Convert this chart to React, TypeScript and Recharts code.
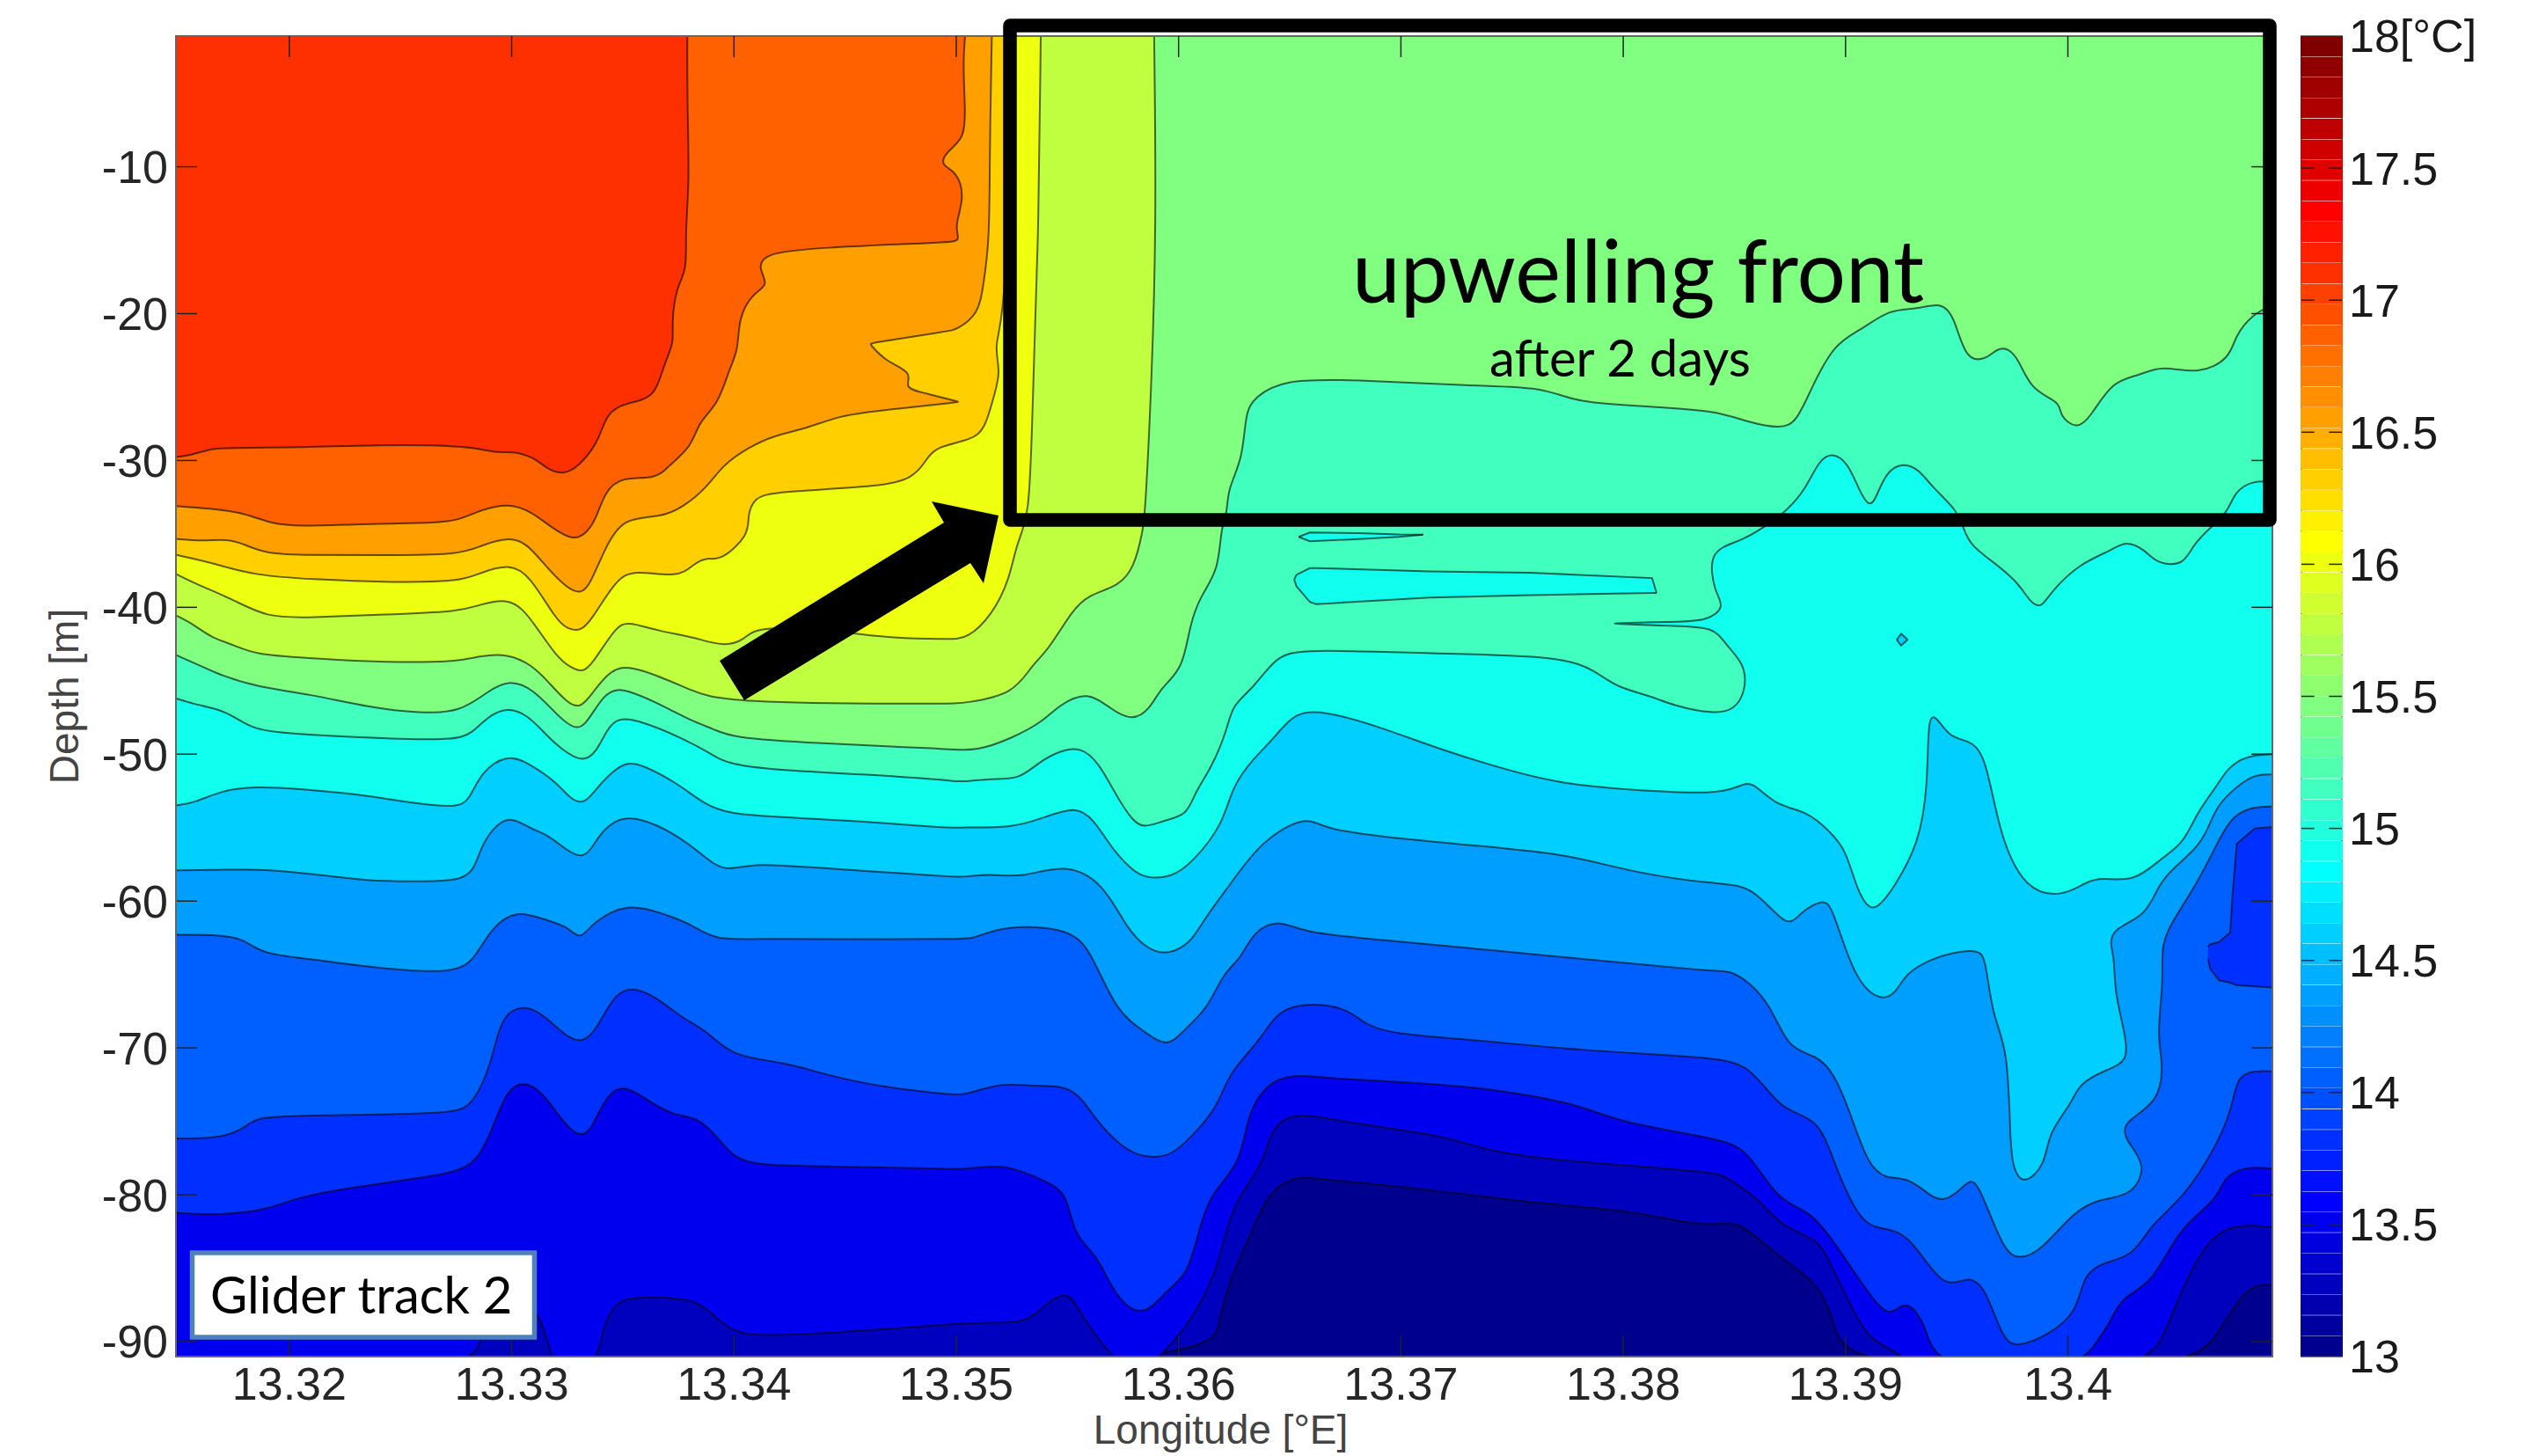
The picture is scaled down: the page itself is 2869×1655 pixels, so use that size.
import {
  Area,
  Bar,
  BarChart,
  Cell,
  ComposedChart,
  ReferenceArea,
  ReferenceLine,
  XAxis,
  YAxis,
} from 'recharts';

type Pt = [number, number];

const lonTicks = [13.32, 13.33, 13.34, 13.35, 13.36, 13.37, 13.38, 13.39, 13.4];
const depthTicks = [-90, -80, -70, -60, -50, -40, -30, -20, -10];
const tempTicks = [13, 13.5, 14, 14.5, 15, 15.5, 16, 16.5, 17, 17.5, 18];
const LON_DOMAIN: [number, number] = [13.3149, 13.4092];
const DEPTH_DOMAIN: [number, number] = [-91.02, -1.1];

// colorbar steps, jet(64)
const colorbarTemps = [
  13.039, 13.117, 13.195, 13.273, 13.352, 13.43, 13.508, 13.586, 13.664, 13.742, 13.82, 13.898, 13.977, 14.055, 14.133, 14.211,
  14.289, 14.367, 14.445, 14.523, 14.602, 14.68, 14.758, 14.836, 14.914, 14.992, 15.07, 15.148, 15.227, 15.305, 15.383, 15.461,
  15.539, 15.617, 15.695, 15.773, 15.852, 15.93, 16.008, 16.086, 16.164, 16.242, 16.32, 16.398, 16.477, 16.555, 16.633, 16.711,
  16.789, 16.867, 16.945, 17.023, 17.102, 17.18, 17.258, 17.336, 17.414, 17.492, 17.57, 17.648, 17.727, 17.805, 17.883, 17.961,
];
const colorbarColours = [
  '#00008F', '#00009F', '#0000AF', '#0000BF', '#0000CF', '#0000DF', '#0000EF', '#0000FF',
  '#0010FF', '#0020FF', '#0030FF', '#0040FF', '#0050FF', '#0060FF', '#0070FF', '#0080FF',
  '#008FFF', '#009FFF', '#00AFFF', '#00BFFF', '#00CFFF', '#00DFFF', '#00EFFF', '#00FFFF',
  '#10FFEF', '#20FFDF', '#30FFCF', '#40FFBF', '#50FFAF', '#60FF9F', '#70FF8F', '#80FF80',
  '#8FFF70', '#9FFF60', '#AFFF50', '#BFFF40', '#CFFF30', '#DFFF20', '#EFFF10', '#FFFF00',
  '#FFEF00', '#FFDF00', '#FFCF00', '#FFBF00', '#FFAF00', '#FF9F00', '#FF8F00', '#FF8000',
  '#FF7000', '#FF6000', '#FF5000', '#FF4000', '#FF3000', '#FF2000', '#FF1000', '#FF0000',
  '#EF0000', '#DF0000', '#CF0000', '#BF0000', '#AF0000', '#9F0000', '#8F0000', '#800000',
];

// isotherms: [longitude, depth], the warmer water lies above each line
const seaFloor: Pt[] = [[13.3149, -92], [13.4092, -92]];
const iso132: Pt[] = [
  [13.3149, -92], [13.3614, -92], [13.3618, -88.73], [13.3622, -86.12], [13.3634, -82.2], [13.364, -79.92],
  [13.3652, -78.61], [13.3668, -79.04], [13.3702, -79.43], [13.3758, -80.57], [13.3804, -81.06], [13.3829, -81.97],
  [13.3842, -82.04], [13.3853, -81.81], [13.3866, -83.83], [13.3888, -85.95], [13.3895, -88.73], [13.39, -92],
  [13.4053, -92], [13.4067, -89.71], [13.408, -86.12], [13.4092, -86.12],
];
const iso135: Pt[] = [
  [13.3149, -92], [13.3283, -92], [13.3285, -89.87], [13.3291, -88.73], [13.3305, -87.59], [13.3311, -87.75],
  [13.3316, -89.71], [13.3319, -92], [13.3338, -92], [13.3341, -88.9], [13.3347, -87.28], [13.3355, -86.95],
  [13.338, -87.02], [13.3388, -87.77], [13.3398, -89.24], [13.3409, -89.63], [13.3436, -89.5], [13.3497, -88.82],
  [13.3509, -88.69], [13.3528, -88.75], [13.3535, -88.26], [13.3544, -86.93], [13.3551, -86.77], [13.3554, -87.59],
  [13.3563, -89.71], [13.3576, -92], [13.3586, -92], [13.36, -89.54], [13.3604, -88.89], [13.3617, -85.46],
  [13.3622, -81.88], [13.3628, -79.92], [13.3639, -77.63], [13.3641, -75.68], [13.3651, -74.27], [13.3672, -75.02],
  [13.3722, -76], [13.374, -77.14], [13.3781, -77.8], [13.3842, -78.45], [13.3846, -78.78], [13.3861, -80.25],
  [13.3871, -82.2], [13.3888, -83.02], [13.3893, -84.65], [13.3905, -88.4], [13.3912, -90.03], [13.3927, -90.95],
  [13.3929, -92], [13.4034, -92], [13.4043, -89.71], [13.4053, -85.79], [13.4064, -82.85], [13.4076, -81.97],
  [13.4092, -82.2],
];
const iso137: Pt[] = [
  [13.3149, -81.22], [13.317, -81.39], [13.3191, -81], [13.3205, -80.08], [13.3232, -79.43], [13.3255, -78.94],
  [13.3275, -78.45], [13.3284, -77.8], [13.3291, -75.68], [13.3298, -72.74], [13.3306, -72.25], [13.3314, -73.07],
  [13.332, -74.37], [13.3327, -75.68], [13.3332, -76], [13.3336, -75.51], [13.3343, -73.07], [13.3351, -72.51],
  [13.3361, -73.56], [13.3373, -74.63], [13.3384, -74.7], [13.3393, -76.17], [13.34, -77.47], [13.341, -77.96],
  [13.3436, -78.06], [13.3497, -78.22], [13.35, -78.29], [13.3516, -78.03], [13.3525, -78.12], [13.3541, -79.1],
  [13.355, -79.92], [13.3553, -82.85], [13.3563, -84], [13.357, -86.44], [13.3579, -88.01], [13.3587, -87.91],
  [13.3595, -86.44], [13.3604, -85.46], [13.3609, -82.53], [13.3614, -79.92], [13.3628, -77.96], [13.3631, -74.37],
  [13.364, -72.41], [13.3651, -71.76], [13.3668, -72.09], [13.3713, -72.41], [13.3747, -72.9], [13.3781, -73.88],
  [13.3797, -75.02], [13.3842, -76.17], [13.3856, -76.82], [13.3869, -80.41], [13.3884, -81.06], [13.3895, -83.18],
  [13.3916, -88.08], [13.3922, -88.01], [13.3928, -87.1], [13.3937, -89.05], [13.394, -92], [13.4005, -92],
  [13.4014, -89.71], [13.4019, -88.73], [13.4024, -86.93], [13.4038, -86.12], [13.405, -82.2], [13.4067, -80.41],
  [13.407, -78.78], [13.408, -78.06], [13.4092, -78.22],
];
const iso140: Pt[] = [
  [13.3149, -76.17], [13.317, -76.17], [13.3181, -75.35], [13.3185, -74.7], [13.3209, -74.6], [13.3273, -74.47],
  [13.3282, -74.05], [13.3291, -71.11], [13.3295, -67.85], [13.3305, -67.03], [13.3314, -67.68], [13.3325, -69.31],
  [13.3332, -69.64], [13.3338, -68.83], [13.3347, -66.05], [13.3357, -65.89], [13.3368, -66.87], [13.3377, -68.01],
  [13.3388, -68.83], [13.3399, -70.62], [13.3423, -70.95], [13.3443, -71.93], [13.347, -72.74], [13.3497, -73.16],
  [13.3504, -73.23], [13.352, -72.35], [13.3536, -72.64], [13.3553, -72.51], [13.3563, -75.02], [13.3575, -76.82],
  [13.3584, -77.47], [13.3595, -77.41], [13.3602, -76.66], [13.3618, -74.05], [13.3622, -71.76], [13.3638, -69.31],
  [13.3646, -66.93], [13.3674, -67.03], [13.3683, -68.34], [13.3695, -69.05], [13.3736, -69.48], [13.3781, -70.2],
  [13.3842, -70.62], [13.3858, -71.27], [13.3871, -74.37], [13.3888, -74.7], [13.3895, -77.96], [13.3906, -81.71],
  [13.3915, -82.36], [13.3928, -82.43], [13.3944, -86.61], [13.3955, -85.46], [13.3963, -86.28], [13.3971, -90.03],
  [13.3978, -90.36], [13.3991, -89.54], [13.4004, -88.08], [13.4007, -85.46], [13.4015, -84.64], [13.403, -84.16],
  [13.4037, -82.04], [13.4052, -80.25], [13.4067, -76.66], [13.4074, -74.05], [13.4076, -71.93], [13.4084, -71.53],
  [13.4092, -71.6],
];
const iso143: Pt[] = [
  [13.3149, -62.3], [13.317, -62.3], [13.318, -62.63], [13.3188, -63.61], [13.3209, -63.93], [13.3232, -64.42],
  [13.3275, -65.07], [13.3284, -63.77], [13.3291, -61.81], [13.3302, -60.57], [13.3316, -61.32], [13.3325, -61.71],
  [13.3331, -62.72], [13.3336, -61.48], [13.3352, -60.11], [13.3368, -60.83], [13.3382, -61.65], [13.3391, -62.69],
  [13.3414, -62.53], [13.3459, -62.63], [13.3497, -62.56], [13.3508, -62.63], [13.352, -61.65], [13.3552, -61.81],
  [13.3561, -63.61], [13.3572, -67.52], [13.3584, -68.83], [13.3595, -70.03], [13.3602, -68.83], [13.3613, -67.36],
  [13.362, -64.91], [13.3628, -63.93], [13.3634, -61.97], [13.3646, -61.26], [13.3655, -62.14], [13.369, -62.63],
  [13.3736, -63.28], [13.3781, -63.93], [13.3842, -64.81], [13.3846, -64.75], [13.3853, -65.07], [13.3866, -66.87],
  [13.3874, -70.13], [13.3887, -70.46], [13.3895, -71.76], [13.3902, -74.37], [13.391, -77.96], [13.3918, -78.94],
  [13.3928, -78.78], [13.3938, -80.08], [13.3944, -80.47], [13.3951, -79.76], [13.3956, -78.94], [13.396, -79.27],
  [13.3971, -83.83], [13.3978, -84.42], [13.3988, -83.83], [13.4003, -81.06], [13.4015, -80.25], [13.4029, -80.08],
  [13.4036, -77.96], [13.4025, -76.17], [13.4025, -75.02], [13.4041, -73.72], [13.4043, -71.11], [13.404, -69.15],
  [13.4043, -65.56], [13.4042, -63.28], [13.4045, -61.81], [13.4058, -58.87], [13.4067, -56.1], [13.4074, -54.14],
  [13.4084, -53.56], [13.4092, -53.56],
];
const iso145: Pt[] = [
  [13.3149, -57.9], [13.3164, -57.9], [13.3186, -57.8], [13.3209, -58.12], [13.3236, -58.65], [13.3255, -58.65],
  [13.3277, -58.65], [13.3283, -57.9], [13.3286, -56.43], [13.3291, -55.12], [13.3299, -54.14], [13.3308, -55.06],
  [13.3316, -55.45], [13.3325, -56.59], [13.3332, -57.08], [13.3336, -56.43], [13.3341, -55.12], [13.3351, -54.08],
  [13.3366, -54.8], [13.338, -56.1], [13.3391, -57.57], [13.3398, -57.9], [13.341, -57.41], [13.3436, -57.73],
  [13.3497, -58.32], [13.3502, -58.39], [13.3516, -58.12], [13.3529, -58.45], [13.3549, -57.41], [13.3566, -58.71],
  [13.3577, -61.97], [13.3586, -63.28], [13.3595, -63.7], [13.3606, -62.79], [13.3611, -61.32], [13.3624, -58.71],
  [13.3637, -55.94], [13.3657, -54.14], [13.3665, -55.06], [13.369, -55.61], [13.3736, -56.26], [13.3776, -56.82],
  [13.3804, -58.06], [13.3842, -58.87], [13.3858, -58.87], [13.3874, -61.97], [13.3879, -60.83], [13.389, -59.85],
  [13.3894, -60.34], [13.3904, -65.4], [13.3916, -66.87], [13.3923, -66.22], [13.3927, -64.91], [13.3939, -63.93],
  [13.3947, -63.54], [13.396, -63.28], [13.3963, -63.93], [13.3966, -67.85], [13.3973, -69.97], [13.3974, -76],
  [13.3975, -78.12], [13.398, -79.43], [13.399, -77.96], [13.3991, -75.84], [13.4002, -73.72], [13.4005, -72.41],
  [13.4018, -71.44], [13.4027, -70.95], [13.4026, -69.15], [13.4021, -66.22], [13.4021, -63.93], [13.4019, -62.95],
  [13.402, -61.91], [13.4035, -61], [13.404, -59.2], [13.4045, -58.06], [13.4058, -56.43], [13.4063, -55.12],
  [13.4067, -53.49], [13.4076, -52.19], [13.4084, -51.37], [13.4092, -51.37],
];
const iso148: Pt[] = [
  [13.3149, -53.49], [13.3157, -53.33], [13.317, -52.45], [13.3184, -52.19], [13.3205, -52.35], [13.3232, -52.74],
  [13.3255, -53.33], [13.3275, -53.65], [13.3281, -53.16], [13.3286, -51.21], [13.3298, -50], [13.3307, -50.55],
  [13.332, -51.86], [13.3327, -53.16], [13.3333, -53.39], [13.3339, -52.19], [13.3343, -51.53], [13.3351, -50.49],
  [13.3359, -50.72], [13.3375, -52.02], [13.3386, -53.33], [13.3397, -54.08], [13.3425, -54.31], [13.3459, -54.57],
  [13.3497, -55.06], [13.3502, -54.96], [13.3525, -55.02], [13.3538, -54.4], [13.3554, -53.49], [13.3562, -54.47],
  [13.357, -56.43], [13.3579, -57.9], [13.3585, -58.45], [13.3597, -58.39], [13.3606, -57.41], [13.362, -54.8],
  [13.3624, -52.19], [13.3634, -50.23], [13.3643, -48.92], [13.3652, -47.13], [13.3665, -47.03], [13.369, -48.11],
  [13.3713, -49.41], [13.3736, -50.55], [13.377, -52.02], [13.3804, -52.45], [13.3842, -52.74], [13.3852, -52.19],
  [13.3858, -51.79], [13.3868, -53.49], [13.3883, -53.88], [13.3893, -55.28], [13.39, -56.43], [13.3905, -59.2],
  [13.3912, -61.09], [13.3922, -59.04], [13.3933, -56.1], [13.3937, -52.19], [13.3937, -47.62], [13.394, -47.23],
  [13.3947, -48.92], [13.3955, -49.02], [13.3963, -49.9], [13.3969, -55.45], [13.3981, -59.36], [13.3998, -59.69],
  [13.4008, -58.71], [13.4015, -58.39], [13.403, -58.71], [13.4042, -57.08], [13.4052, -56.1], [13.4058, -53.98],
  [13.4067, -52.19], [13.4072, -50.88], [13.4081, -50.07], [13.4092, -50],
];
const iso150: Pt[] = [
  [13.3149, -46.2], [13.3158, -46.64], [13.317, -46.97], [13.318, -47.94], [13.3189, -48.53], [13.3232, -48.86],
  [13.3274, -49.09], [13.3282, -48.6], [13.3289, -47.46], [13.3298, -46.8], [13.3307, -47.29], [13.3316, -48.76],
  [13.3323, -49.74], [13.3332, -50.55], [13.3338, -49.9], [13.3343, -48.27], [13.3348, -47.46], [13.3359, -47.78],
  [13.3377, -48.92], [13.3389, -49.9], [13.3397, -50.72], [13.3425, -51.14], [13.3459, -51.37], [13.3497, -51.76],
  [13.3502, -51.92], [13.3516, -51.63], [13.3528, -51.76], [13.3537, -50.55], [13.3547, -49.74], [13.3556, -49.51],
  [13.3564, -50.55], [13.3572, -52.84], [13.3579, -54.47], [13.3584, -55.06], [13.3593, -54.53], [13.3604, -54.14],
  [13.3607, -52.68], [13.3615, -50.88], [13.3622, -48.27], [13.3624, -46.67], [13.3634, -45.45], [13.3644, -43.3],
  [13.3656, -42.84], [13.3713, -43.15], [13.3773, -43.3], [13.3788, -44.38], [13.3797, -45.45], [13.3813, -46.06],
  [13.3822, -46.67], [13.3841, -47.28], [13.385, -46.98], [13.3855, -45.75], [13.3855, -43.91], [13.3846, -42.54],
  [13.3841, -41.31], [13.3822, -41.28], [13.3795, -41.1], [13.3795, -41.1], [13.3822, -40.98], [13.3838, -40.95], [13.3846, -39.94],
  [13.3841, -39.02], [13.3838, -36.11], [13.3853, -35.5], [13.3863, -34.58], [13.3873, -33.51], [13.3882, -31.98],
  [13.3888, -29.99], [13.3894, -29.44], [13.3901, -30.14], [13.3906, -31.98], [13.391, -33.05], [13.3913, -32.9],
  [13.3918, -30.76], [13.3926, -30.14], [13.3933, -30.6], [13.3939, -31.82], [13.395, -33.35], [13.3953, -34.58],
  [13.3956, -35.8], [13.3969, -37.18], [13.3978, -38.41], [13.3983, -39.63], [13.3988, -40.09], [13.3992, -39.02],
  [13.4005, -37.03], [13.402, -36.11], [13.4026, -35.44], [13.4035, -36.11], [13.404, -37.03], [13.4052, -37.18],
  [13.4056, -35.8], [13.4064, -34.58], [13.4072, -33.51], [13.4075, -32.13], [13.4083, -31.37], [13.4092, -31.46],
];
const iso153: Pt[] = [
  [13.3149, -43.24], [13.3159, -43.91], [13.317, -44.68], [13.3186, -45.44], [13.3209, -45.9], [13.3236, -46.82],
  [13.3259, -47.22], [13.3277, -47.13], [13.3289, -45.75], [13.3299, -44.89], [13.331, -45.6], [13.332, -47.28],
  [13.333, -48.6], [13.3336, -47.3], [13.3342, -45.9], [13.3347, -45.6], [13.3351, -45.6], [13.3364, -46.37],
  [13.3382, -47.83], [13.3391, -48.27], [13.3398, -48.86], [13.3436, -49.25], [13.3497, -49.64], [13.3509, -49.8],
  [13.3525, -48.92], [13.3539, -47.78], [13.3546, -46.67], [13.3559, -45.66], [13.357, -46.98], [13.3579, -47.74],
  [13.3587, -46.98], [13.3592, -45.45], [13.3602, -44.22], [13.3605, -41.16], [13.361, -39.17], [13.3618, -37.49],
  [13.3619, -34.58], [13.3622, -33.51], [13.3622, -31.98], [13.3629, -29.84], [13.363, -26.77], [13.3634, -25.7],
  [13.3647, -24.48], [13.3677, -24.48], [13.3733, -24.94], [13.3765, -25], [13.3778, -26.07], [13.3813, -26.32],
  [13.3842, -26.62], [13.3856, -27.39], [13.3871, -27.85], [13.3878, -27.39], [13.3885, -24.94], [13.3895, -22.03],
  [13.3907, -21.11], [13.392, -19.67], [13.3932, -19.73], [13.3943, -19.18], [13.3949, -20.19], [13.3954, -23.25],
  [13.3964, -23.1], [13.3969, -22.18], [13.3977, -22.64], [13.3983, -25.24], [13.3997, -26.01], [13.3996, -26.93],
  [13.4004, -27.91], [13.401, -27.08], [13.402, -24.57], [13.4032, -24.23], [13.4042, -23.5], [13.4059, -24.17],
  [13.4073, -23.04], [13.4075, -21.57], [13.4083, -20.04], [13.4092, -19.43],
];
const iso156: Pt[] = [
  [13.3149, -40.55], [13.3157, -41.16], [13.3165, -42.08], [13.3175, -42.54], [13.3184, -43.21], [13.3209, -43.46],
  [13.3232, -43.67], [13.3255, -43.76], [13.3277, -43.67], [13.3286, -43.3], [13.3298, -43.15], [13.3309, -43.91],
  [13.3316, -44.99], [13.3325, -46.52], [13.3331, -46.88], [13.3336, -45.9], [13.3343, -44.53], [13.335, -43.91],
  [13.3364, -44.53], [13.338, -45.6], [13.3395, -46.52], [13.3497, -46.58], [13.3504, -46.52], [13.3526, -45.9],
  [13.3534, -43.91], [13.3541, -43], [13.3552, -40.24], [13.3559, -39.17], [13.3573, -38.56], [13.358, -37.33],
  [13.3584, -34.73], [13.3585, -33.51], [13.3588, -24.33], [13.359, -13.61], [13.3589, -1],
];
const iso158: Pt[] = [
  [13.3149, -37.73], [13.3158, -38.41], [13.3175, -39.48], [13.319, -40.7], [13.3209, -40.7], [13.3243, -40.49],
  [13.3277, -40.3], [13.3286, -39.78], [13.3298, -39.41], [13.3305, -40.09], [13.3311, -41.31], [13.332, -43.3],
  [13.3326, -44.07], [13.3332, -44.44], [13.3336, -43.91], [13.3347, -41.31], [13.3352, -40.95], [13.3366, -41.62],
  [13.3382, -42.02], [13.3395, -42.69], [13.3405, -42.23], [13.341, -41.16], [13.3455, -41.77], [13.347, -42.08],
  [13.3497, -42.17], [13.3505, -42.14], [13.3516, -40.55], [13.3524, -38.1], [13.3527, -35.65], [13.3533, -33.81],
  [13.3534, -27.39], [13.3537, -15.14], [13.3538, -1],
];
const iso161: Pt[] = [
  [13.3149, -36.42], [13.3158, -36.72], [13.317, -37.18], [13.3184, -37.79], [13.3209, -38.1], [13.3248, -38.31],
  [13.3277, -38.25], [13.3286, -37.64], [13.3299, -37.03], [13.3308, -37.79], [13.332, -40.85], [13.3325, -41.47],
  [13.3331, -41.65], [13.3336, -40.85], [13.3347, -38.1], [13.3355, -37.43], [13.3375, -38.01], [13.3382, -37.03],
  [13.3388, -36.57], [13.3394, -36.87], [13.3407, -35.04], [13.3406, -33.81], [13.3409, -32.53], [13.3418, -32.13],
  [13.3468, -31.76], [13.348, -31.21], [13.3486, -30.14], [13.349, -29.07], [13.3507, -28.61], [13.3513, -27.85],
  [13.3517, -25.55], [13.352, -24.02], [13.3517, -22.18], [13.3521, -20.65], [13.3524, -12.08], [13.3525, -1],
];
const iso163: Pt[] = [
  [13.3149, -35.34], [13.3161, -35.5], [13.3172, -35.34], [13.318, -35.71], [13.3189, -36.35], [13.3209, -36.45],
  [13.3243, -36.45], [13.3277, -36.42], [13.3286, -35.8], [13.3299, -35.19], [13.3307, -35.65], [13.3316, -37.33],
  [13.3325, -38.71], [13.3331, -39.08], [13.3335, -38.56], [13.3342, -35.96], [13.335, -33.88], [13.3367, -33.88],
  [13.3377, -33.2], [13.3388, -31.82], [13.3395, -30.29], [13.3407, -29.07], [13.3418, -28.3], [13.3432, -27.85],
  [13.3448, -26.93], [13.3464, -26.62], [13.3497, -26.1], [13.3501, -26], [13.3501, -26], [13.3486, -25.4], [13.3476, -25.09],
  [13.3481, -24.02], [13.3468, -23.25], [13.3461, -22.03], [13.3461, -22.03], [13.3497, -21.17], [13.35, -21.11], [13.351, -20.04],
  [13.3512, -18.2], [13.3515, -15.14], [13.3515, -9.02], [13.3516, -1],
];
const iso166: Pt[] = [
  [13.3149, -33.11], [13.3164, -33.26], [13.318, -33.57], [13.3192, -34.33], [13.3205, -34.49], [13.3232, -34.33],
  [13.3259, -34.27], [13.3275, -34.18], [13.3286, -33.35], [13.3299, -32.9], [13.3309, -33.5], [13.3318, -34.58],
  [13.3328, -35.5], [13.3334, -34.89], [13.3338, -33.97], [13.3342, -32.13], [13.3349, -31.12], [13.3365, -31.27],
  [13.337, -30.45], [13.3381, -29.07], [13.3384, -27.39], [13.3393, -26.16], [13.3398, -23.71], [13.3402, -22.49],
  [13.3402, -20.35], [13.3408, -18.66], [13.3416, -18.05], [13.3411, -16.98], [13.3413, -15.91], [13.3436, -15.51],
  [13.3497, -15.14], [13.3502, -15.05], [13.3499, -14.07], [13.3504, -12.08], [13.35, -10.24], [13.3493, -9.94],
  [13.3495, -9.02], [13.3504, -8.1], [13.3504, -5.96], [13.3503, -2.9], [13.3504, -1],
];
const iso169: Pt[] = [
  [13.3149, -29.77], [13.3155, -29.68], [13.3164, -29.22], [13.3171, -29.13], [13.3202, -29.13], [13.3239, -28.92],
  [13.3282, -28.98], [13.3293, -29.53], [13.33, -29.35], [13.331, -29.77], [13.3316, -30.6], [13.3323, -30.97],
  [13.333, -30.45], [13.3339, -28.76], [13.3342, -27.08], [13.3348, -26.22], [13.3359, -25.92], [13.3365, -25.4],
  [13.3369, -23.25], [13.3373, -22.03], [13.3372, -20.65], [13.3374, -18.2], [13.3379, -17.04], [13.3378, -14.53],
  [13.338, -11.16], [13.3379, -5.96], [13.3379, -1],
];

// closed pockets: [longitude, lower depth, upper depth]
const cyanSliver: [number, number, number][] = [
  [13.3654, -35.2, -35.2], [13.3659, -35.5, -34.9], [13.3681, -35.35, -34.95], [13.3699, -35.2, -35.04], [13.371, -35.05, -35.05],
];
const cyanPocket: [number, number, number][] = [
  [13.3652, -38.1, -38.1], [13.3653, -38.56, -37.79], [13.3659, -39.63, -37.33], [13.3662, -39.78, -37.33],
  [13.3713, -39.33, -37.55], [13.3758, -39.17, -37.64], [13.3813, -39.02, -38.01], [13.3815, -39.02, -39.02],
];
const speck: [number, number, number][] = [
  [13.3923, -42.2, -42.2], [13.3925, -42.6, -41.8], [13.3928, -42.2, -42.2],
];
const deepPocket: [number, number, number][] = [
  [13.4063, -63.93, -63.12], [13.4064, -64.6, -62.95], [13.4068, -65.4, -62.79], [13.4073, -65.56, -62.14],
  [13.4074, -65.63, -59.69], [13.4076, -65.73, -56.1], [13.4084, -65.82, -55.06], [13.4092, -65.89, -54.96],
];

const isotherms: { points: Pt[]; colour: string }[] = [
  { points: seaFloor, colour: '#00008F' },
  { points: iso132, colour: '#0000BF' },
  { points: iso135, colour: '#0000EF' },
  { points: iso137, colour: '#0030FF' },
  { points: iso140, colour: '#0060FF' },
  { points: iso143, colour: '#009FFF' },
  { points: iso145, colour: '#00CFFF' },
  { points: iso148, colour: '#10FFEF' },
  { points: iso150, colour: '#40FFBF' },
  { points: iso153, colour: '#80FF80' },
  { points: iso156, colour: '#BFFF40' },
  { points: iso158, colour: '#EFFF10' },
  { points: iso161, colour: '#FFCF00' },
  { points: iso163, colour: '#FF9F00' },
  { points: iso166, colour: '#FF6000' },
  { points: iso169, colour: '#FF3000' },
];
const pockets = [
  { points: cyanSliver, colour: '#10FFEF' },
  { points: cyanPocket, colour: '#10FFEF' },
  { points: speck, colour: '#00CFFF' },
  { points: deepPocket, colour: '#0030FF' },
];

const colorbarRows = colorbarTemps.map((temp) => ({ temp, span: 1 }));

const AXIS_FONT = '"Liberation Sans", Arial, sans-serif';
const NOTE_FONT = 'Lato, sans-serif';
const TICK_X = 0.00095;
const TICK_Y = 1.44;

function TemperatureSection() {
  return (
    <ComposedChart width={2869} height={1655} margin={{ top: 41, right: 286, bottom: 0, left: 0 }}>
      <XAxis
        dataKey="lon"
        type="number"
        domain={LON_DOMAIN}
        allowDataOverflow
        ticks={lonTicks}
        interval={0}
        height={113}
        tickSize={0}
        tickMargin={12}
        tickLine={false}
        axisLine={{ stroke: '#666', strokeWidth: 2 }}
        tick={{ fontSize: 52, fontFamily: AXIS_FONT, fill: '#262626' }}
        label={{ value: 'Longitude [°E]', position: 'insideBottom', offset: 14, dx: -4, fontSize: 46, fontFamily: AXIS_FONT, fill: '#444' }}
      />
      <YAxis
        dataKey="depth"
        type="number"
        domain={DEPTH_DOMAIN}
        allowDataOverflow
        ticks={depthTicks}
        interval={0}
        width={200}
        tickSize={0}
        tickMargin={9}
        tickLine={false}
        axisLine={{ stroke: '#666', strokeWidth: 2 }}
        tick={{ fontSize: 52, fontFamily: AXIS_FONT, fill: '#262626' }}
        label={{ value: 'Depth [m]', angle: -90, position: 'insideLeft', offset: 73, textAnchor: 'middle', fontSize: 46, fontFamily: AXIS_FONT, fill: '#444' }}
      />
      {isotherms.map((iso) => (
        <Area
          key={iso.colour}
          data={iso.points.map(([lon, depth]) => ({ lon, depth }))}
          dataKey="depth"
          type="basis"
          baseValue={-1}
          fill={iso.colour}
          fillOpacity={1}
          stroke="#000"
          strokeOpacity={0.6}
          strokeWidth={2}
          dot={false}
          activeDot={false}
          isAnimationActive={false}
        />
      ))}
      {pockets.map((pocket, i) => (
        <Area
          key={i}
          data={pocket.points.map(([lon, lower, upper]) => ({ lon, band: [lower, upper] }))}
          dataKey="band"
          type="linear"
          fill={pocket.colour}
          fillOpacity={1}
          stroke="#000"
          strokeOpacity={0.6}
          strokeWidth={2}
          dot={false}
          activeDot={false}
          isAnimationActive={false}
        />
      ))}
      {lonTicks.map((lon) => (
        <ReferenceLine key={`b${lon}`} segment={[{ x: lon, y: DEPTH_DOMAIN[0] }, { x: lon, y: DEPTH_DOMAIN[0] + TICK_Y }]} stroke="#222" strokeWidth={1.5} />
      ))}
      {lonTicks.map((lon) => (
        <ReferenceLine key={`t${lon}`} segment={[{ x: lon, y: DEPTH_DOMAIN[1] }, { x: lon, y: DEPTH_DOMAIN[1] - TICK_Y }]} stroke="#222" strokeWidth={1.5} />
      ))}
      {depthTicks.map((depth) => (
        <ReferenceLine key={`l${depth}`} segment={[{ x: LON_DOMAIN[0], y: depth }, { x: LON_DOMAIN[0] + TICK_X, y: depth }]} stroke="#222" strokeWidth={1.5} />
      ))}
      {depthTicks.map((depth) => (
        <ReferenceLine key={`r${depth}`} segment={[{ x: LON_DOMAIN[1], y: depth }, { x: LON_DOMAIN[1] - TICK_X, y: depth }]} stroke="#222" strokeWidth={1.5} />
      ))}
      <ReferenceArea x1={LON_DOMAIN[0]} x2={LON_DOMAIN[1]} y1={DEPTH_DOMAIN[0]} y2={DEPTH_DOMAIN[1]} fill="none" stroke="#666" strokeWidth={2} />
    </ComposedChart>
  );
}

function Colorbar() {
  return (
    <BarChart
      width={309}
      height={1655}
      layout="vertical"
      data={colorbarRows}
      margin={{ top: 41, right: 0, bottom: 113, left: 56 }}
      style={{ position: 'absolute', left: 2560, top: 0 }}
    >
      <XAxis type="number" dataKey="span" domain={[0, 1]} hide />
      <YAxis
        type="number"
        dataKey="temp"
        orientation="right"
        reversed
        domain={[13, 18]}
        ticks={tempTicks}
        interval={0}
        width={207}
        tickSize={0}
        tickMargin={8}
        tickLine={false}
        axisLine={false}
        tick={{ fontSize: 52, fontFamily: AXIS_FONT, fill: '#1a1a1a', textAnchor: 'start' }}
        tickFormatter={(v: number) => (v === 18 ? '18[°C]' : String(v))}
      />
      <Bar dataKey="span" barSize={24} isAnimationActive={false}>
        {colorbarRows.map((row, i) => (
          <Cell key={row.temp} fill={colorbarColours[i]} stroke={colorbarColours[i]} strokeWidth={2} />
        ))}
      </Bar>
      {tempTicks.slice(1, -1).map((t) => (
        <ReferenceLine key={`a${t}`} segment={[{ x: 0, y: t }, { x: 0.32, y: t }]} stroke="#222" strokeWidth={1.5} />
      ))}
      {tempTicks.slice(1, -1).map((t) => (
        <ReferenceLine key={`c${t}`} segment={[{ x: 0.68, y: t }, { x: 1, y: t }]} stroke="#222" strokeWidth={1.5} />
      ))}
      <ReferenceArea x1={0} x2={1} y1={13} y2={18} fill="none" stroke="#777" strokeWidth={2} />
    </BarChart>
  );
}

export default function App() {
  return (
    <div style={{ position: 'absolute', left: 0, top: 0, width: 2869, height: 1655, background: '#fff', overflow: 'hidden' }}>
      <TemperatureSection />
      <Colorbar />
      {/* slide annotations on top of the plot */}
      <svg width={2869} height={1655} style={{ position: 'absolute', left: 0, top: 0 }}>
        <rect x={1148} y={29} width={1432} height={562} fill="none" stroke="#000" strokeWidth={15.5} strokeLinejoin="round" />
        <polygon points="818,751 1073,594 1059,570 1135,586 1118,663 1103,640 846,796" fill="#000" />
        <text x={1537} y={344} fontFamily={NOTE_FONT} fontSize={98} fill="#000">upwelling front</text>
        <text x={1693} y={428} fontFamily={NOTE_FONT} fontSize={58} fill="#000">after 2 days</text>
        <rect x={218.5} y={1424} width={389} height={96} fill="#fff" stroke="#4F81BD" strokeWidth={5.5} />
        <text x={239} y={1493} fontFamily={NOTE_FONT} fontSize={58} fill="#000">Glider track 2</text>
      </svg>
    </div>
  );
}
